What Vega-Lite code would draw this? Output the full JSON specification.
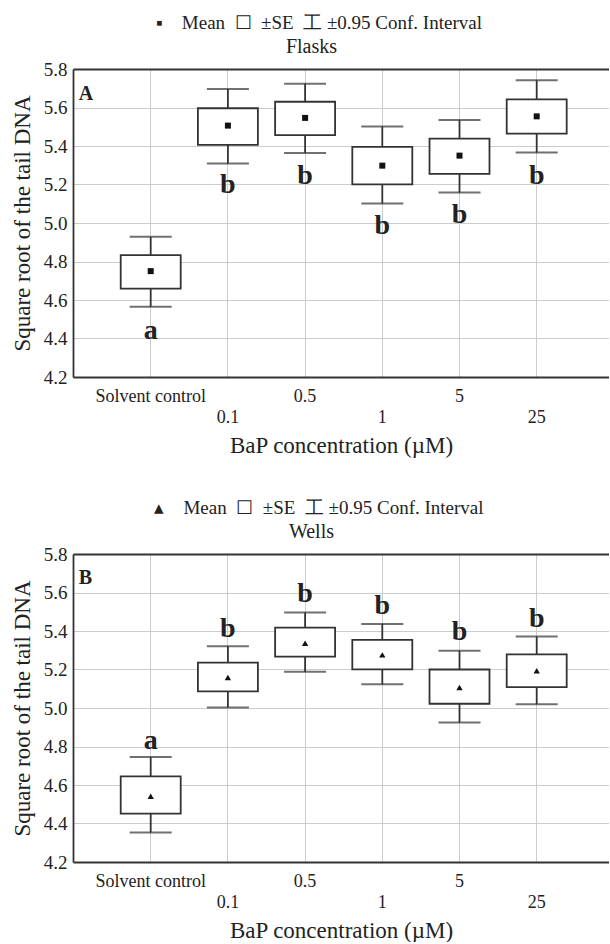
{
  "$schema": "https://vega.github.io/schema/vega-lite/v6.json",
  "padding": {"left": 11, "top": 14, "right": 0, "bottom": 0},
  "background": "white",
  "spacing": 42,
  "config": {
    "font": "Liberation Serif",
    "view": {"stroke": null},
    "axis": {
      "labelFont": "Liberation Serif",
      "titleFont": "Liberation Serif",
      "labelColor": "#222222",
      "titleColor": "#222222",
      "titleFontWeight": "normal",
      "labelFontWeight": "normal",
      "gridColor": "#cccccc",
      "gridWidth": 1,
      "domainColor": "#333333",
      "domainWidth": 1.8
    },
    "title": {
      "font": "Liberation Serif",
      "fontWeight": "normal",
      "fontSize": 19,
      "subtitleFont": "Liberation Serif",
      "subtitleFontSize": 20,
      "color": "#222222",
      "subtitleColor": "#222222"
    }
  },
  "datasets": {
    "stats": [
      {"panel": "A", "conc": "Solvent control", "mean": 4.750, "se_lo": 4.659, "se_hi": 4.833, "ci_lo": 4.565, "ci_hi": 4.928, "letter": "a", "letter_y": 4.439},
      {"panel": "A", "conc": "0.1", "mean": 5.506, "se_lo": 5.406, "se_hi": 5.596, "ci_lo": 5.309, "ci_hi": 5.696, "letter": "b", "letter_y": 5.196},
      {"panel": "A", "conc": "0.5", "mean": 5.546, "se_lo": 5.456, "se_hi": 5.630, "ci_lo": 5.364, "ci_hi": 5.724, "letter": "b", "letter_y": 5.246},
      {"panel": "A", "conc": "1", "mean": 5.298, "se_lo": 5.201, "se_hi": 5.395, "ci_lo": 5.101, "ci_hi": 5.501, "letter": "b", "letter_y": 4.987},
      {"panel": "A", "conc": "5", "mean": 5.350, "se_lo": 5.255, "se_hi": 5.438, "ci_lo": 5.158, "ci_hi": 5.535, "letter": "b", "letter_y": 5.043},
      {"panel": "A", "conc": "25", "mean": 5.554, "se_lo": 5.464, "se_hi": 5.642, "ci_lo": 5.366, "ci_hi": 5.741, "letter": "b", "letter_y": 5.246},
      {"panel": "B", "conc": "Solvent control", "mean": 4.541, "se_lo": 4.451, "se_hi": 4.645, "ci_lo": 4.353, "ci_hi": 4.745, "letter": "a", "letter_y": 4.831},
      {"panel": "B", "conc": "0.1", "mean": 5.158, "se_lo": 5.086, "se_hi": 5.236, "ci_lo": 5.003, "ci_hi": 5.321, "letter": "b", "letter_y": 5.411},
      {"panel": "B", "conc": "0.5", "mean": 5.336, "se_lo": 5.267, "se_hi": 5.418, "ci_lo": 5.188, "ci_hi": 5.496, "letter": "b", "letter_y": 5.592},
      {"panel": "B", "conc": "1", "mean": 5.276, "se_lo": 5.201, "se_hi": 5.354, "ci_lo": 5.123, "ci_hi": 5.437, "letter": "b", "letter_y": 5.532},
      {"panel": "B", "conc": "5", "mean": 5.106, "se_lo": 5.022, "se_hi": 5.200, "ci_lo": 4.925, "ci_hi": 5.297, "letter": "b", "letter_y": 5.393},
      {"panel": "B", "conc": "25", "mean": 5.193, "se_lo": 5.108, "se_hi": 5.279, "ci_lo": 5.020, "ci_hi": 5.371, "letter": "b", "letter_y": 5.463}
    ],
    "panelLabels": [
      {"panel": "A", "conc": "Solvent control", "y": 5.672, "label": "A"},
      {"panel": "B", "conc": "Solvent control", "y": 5.674, "label": "B"}
    ]
  },
  "vconcat": [
    {
      "width": 536,
      "height": 308,
      "title": {"text": "▪\u2003Mean\u2002☐\u2002±SE\u2002工 ±0.95 Conf. Interval", "subtitle": "Flasks\u2800", "anchor": "middle", "dx": -22, "offset": 3, "subtitlePadding": 4},
      "encoding": {
        "x": {
          "field": "conc", "type": "nominal",
          "sort": ["Solvent control", "0.1", "0.5", "1", "5", "25"],
          "scale": {"paddingInner": 0.223, "paddingOuter": 0.583, "align": 0.53},
          "axis": null
        },
        "y": {
          "type": "quantitative",
          "scale": {"domain": [4.2, 5.8], "nice": false, "zero": false},
          "axis": {
            "values": [4.2, 4.4, 4.6, 4.8, 5.0, 5.2, 5.4, 5.6, 5.8], "format": ".1f",
            "labelFont": "Liberation Serif", "titleFont": "Liberation Serif",
            "labelFontSize": 19, "labelPadding": 6, "ticks": false, "grid": true, "domain": true,
            "title": "Square root of the tail DNA", "titleFontSize": 23, "titlePadding": 9
          }
        }
      },
      "resolve": {"axis": {"x": "independent"}},
      "layer": [
        {
          "data": {"name": "stats"},
          "transform": [{"filter": "datum.panel === 'A'"}],
          "mark": {"type": "rule", "color": "#333333", "strokeWidth": 1.8},
          "encoding": {
            "x": {
              "field": "conc", "type": "nominal",
              "sort": ["Solvent control", "0.1", "0.5", "1", "5", "25"],
              "scale": {"paddingInner": 0.223, "paddingOuter": 0.583, "align": 0.53},
              "axis": {
                "orient": "bottom", "title": "BaP concentration (µM)", "titleFontSize": 23, "titlePadding": 8,
                "labelFont": "Liberation Serif", "titleFont": "Liberation Serif",
                "labelExpr": "indexof(['0.1','1','25'], datum.value) >= 0 ? ['', datum.value] : datum.value",
                "labelLineHeight": 21, "labelBaseline": "top", "labelPadding": 10, "labelFontSize": 18, "labelAngle": 0, "labelOverlap": false,
                "ticks": false, "grid": true, "domain": true
              }
            },
            "y": {"field": "ci_lo"}, "y2": {"field": "ci_hi"}
          }
        },
        {
          "data": {"name": "stats"},
          "transform": [{"filter": "datum.panel === 'A'"}],
          "mark": {"type": "tick", "color": "#333333", "size": 42, "thickness": 2},
          "encoding": {"y": {"field": "ci_lo"}}
        },
        {
          "data": {"name": "stats"},
          "transform": [{"filter": "datum.panel === 'A'"}],
          "mark": {"type": "tick", "color": "#333333", "size": 42, "thickness": 2},
          "encoding": {"y": {"field": "ci_hi"}}
        },
        {
          "data": {"name": "stats"},
          "transform": [{"filter": "datum.panel === 'A'"}],
          "mark": {"type": "bar", "fill": "white", "stroke": "#333333", "strokeWidth": 1.8},
          "encoding": {"y": {"field": "se_lo"}, "y2": {"field": "se_hi"}}
        },
        {
          "data": {"name": "stats"},
          "transform": [{"filter": "datum.panel === 'A'"}],
          "mark": {"type": "point", "shape": "square", "filled": true, "color": "#111111", "size": 36, "opacity": 1},
          "encoding": {"y": {"field": "mean"}}
        },
        {
          "data": {"name": "stats"},
          "transform": [{"filter": "datum.panel === 'A'"}],
          "mark": {"type": "text", "font": "Liberation Serif", "fontSize": 28, "fontWeight": "bold", "color": "#222222", "baseline": "middle", "align": "center"},
          "encoding": {"y": {"field": "letter_y"}, "text": {"field": "letter"}}
        },
        {
          "data": {"name": "panelLabels"},
          "transform": [{"filter": "datum.panel === 'A'"}],
          "mark": {"type": "text", "font": "Liberation Serif", "fontSize": 20, "fontWeight": "bold", "color": "#222222", "baseline": "middle", "align": "left", "dx": -72},
          "encoding": {
            "x": {"field": "conc", "type": "nominal", "sort": ["Solvent control", "0.1", "0.5", "1", "5", "25"], "scale": {"paddingInner": 0.223, "paddingOuter": 0.583, "align": 0.53}, "axis": {"orient": "top", "labels": false, "ticks": false, "title": null, "grid": false, "domain": true}},
            "y": {"field": "y"},
            "text": {"field": "label"}
          }
        }
      ]
    },
    {
      "width": 536,
      "height": 308,
      "title": {"text": "▴\u2003Mean\u2002☐\u2002±SE\u2002工 ±0.95 Conf. Interval", "subtitle": "Wells\u2800", "anchor": "middle", "dx": -22, "offset": 3, "subtitlePadding": 4},
      "encoding": {
        "x": {
          "field": "conc", "type": "nominal",
          "sort": ["Solvent control", "0.1", "0.5", "1", "5", "25"],
          "scale": {"paddingInner": 0.223, "paddingOuter": 0.583, "align": 0.53},
          "axis": null
        },
        "y": {
          "type": "quantitative",
          "scale": {"domain": [4.2, 5.8], "nice": false, "zero": false},
          "axis": {
            "values": [4.2, 4.4, 4.6, 4.8, 5.0, 5.2, 5.4, 5.6, 5.8], "format": ".1f",
            "labelFont": "Liberation Serif", "titleFont": "Liberation Serif",
            "labelFontSize": 19, "labelPadding": 6, "ticks": false, "grid": true, "domain": true,
            "title": "Square root of the tail DNA", "titleFontSize": 23, "titlePadding": 9
          }
        }
      },
      "resolve": {"axis": {"x": "independent"}},
      "layer": [
        {
          "data": {"name": "stats"},
          "transform": [{"filter": "datum.panel === 'B'"}],
          "mark": {"type": "rule", "color": "#333333", "strokeWidth": 1.8},
          "encoding": {
            "x": {
              "field": "conc", "type": "nominal",
              "sort": ["Solvent control", "0.1", "0.5", "1", "5", "25"],
              "scale": {"paddingInner": 0.223, "paddingOuter": 0.583, "align": 0.53},
              "axis": {
                "orient": "bottom", "title": "BaP concentration (µM)", "titleFontSize": 23, "titlePadding": 8,
                "labelFont": "Liberation Serif", "titleFont": "Liberation Serif",
                "labelExpr": "indexof(['0.1','1','25'], datum.value) >= 0 ? ['', datum.value] : datum.value",
                "labelLineHeight": 21, "labelBaseline": "top", "labelPadding": 10, "labelFontSize": 18, "labelAngle": 0, "labelOverlap": false,
                "ticks": false, "grid": true, "domain": true
              }
            },
            "y": {"field": "ci_lo"}, "y2": {"field": "ci_hi"}
          }
        },
        {
          "data": {"name": "stats"},
          "transform": [{"filter": "datum.panel === 'B'"}],
          "mark": {"type": "tick", "color": "#333333", "size": 42, "thickness": 2},
          "encoding": {"y": {"field": "ci_lo"}}
        },
        {
          "data": {"name": "stats"},
          "transform": [{"filter": "datum.panel === 'B'"}],
          "mark": {"type": "tick", "color": "#333333", "size": 42, "thickness": 2},
          "encoding": {"y": {"field": "ci_hi"}}
        },
        {
          "data": {"name": "stats"},
          "transform": [{"filter": "datum.panel === 'B'"}],
          "mark": {"type": "bar", "fill": "white", "stroke": "#333333", "strokeWidth": 1.8},
          "encoding": {"y": {"field": "se_lo"}, "y2": {"field": "se_hi"}}
        },
        {
          "data": {"name": "stats"},
          "transform": [{"filter": "datum.panel === 'B'"}],
          "mark": {"type": "point", "shape": "triangle-up", "filled": true, "color": "#111111", "size": 40, "opacity": 1},
          "encoding": {"y": {"field": "mean"}}
        },
        {
          "data": {"name": "stats"},
          "transform": [{"filter": "datum.panel === 'B'"}],
          "mark": {"type": "text", "font": "Liberation Serif", "fontSize": 28, "fontWeight": "bold", "color": "#222222", "baseline": "middle", "align": "center"},
          "encoding": {"y": {"field": "letter_y"}, "text": {"field": "letter"}}
        },
        {
          "data": {"name": "panelLabels"},
          "transform": [{"filter": "datum.panel === 'B'"}],
          "mark": {"type": "text", "font": "Liberation Serif", "fontSize": 20, "fontWeight": "bold", "color": "#222222", "baseline": "middle", "align": "left", "dx": -72},
          "encoding": {
            "x": {"field": "conc", "type": "nominal", "sort": ["Solvent control", "0.1", "0.5", "1", "5", "25"], "scale": {"paddingInner": 0.223, "paddingOuter": 0.583, "align": 0.53}, "axis": {"orient": "top", "labels": false, "ticks": false, "title": null, "grid": false, "domain": true}},
            "y": {"field": "y"},
            "text": {"field": "label"}
          }
        }
      ]
    }
  ]
}
